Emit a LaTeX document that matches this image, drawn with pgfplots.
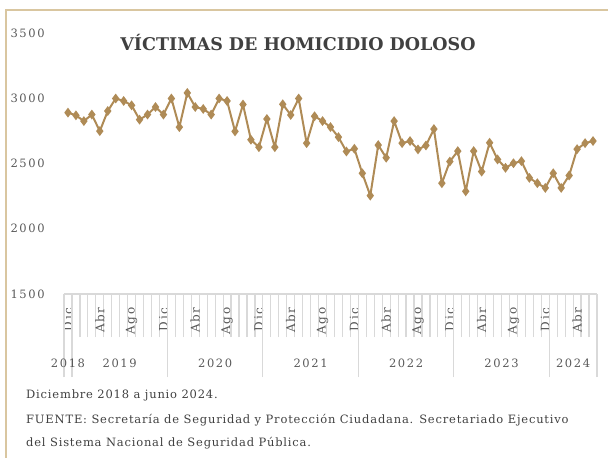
\documentclass[border=0pt]{standalone}
\usepackage{pgfplots}
\pgfplotsset{compat=1.18}
\usepackage{pgfplotstable}
\usepackage{fontspec}
\setmainfont{DejaVu Serif}
\newfontfamily\lsfont{DejaVu Serif}[LetterSpace=14]
\newfontfamily\fnfont{DejaVu Serif}[LetterSpace=7]
\definecolor{linec}{HTML}{AF8B56}
\definecolor{tickgray}{HTML}{D9D9D9}
\definecolor{txt}{HTML}{595959}
\definecolor{ttl}{HTML}{404040}
\definecolor{framec}{HTML}{D9C6A0}
\pgfplotstableread{
i v
0 2890
1 2869
2 2825
3 2875
4 2748
5 2902
6 2998
7 2979
8 2946
9 2836
10 2875
11 2933
12 2875
13 2998
14 2779
15 3041
16 2933
17 2918
18 2875
19 2998
20 2979
21 2746
22 2952
23 2682
24 2625
25 2841
26 2625
27 2954
28 2872
29 2998
30 2656
31 2862
32 2825
33 2779
34 2702
35 2592
36 2613
37 2425
38 2254
39 2641
40 2544
41 2825
42 2656
43 2672
44 2608
45 2638
46 2764
47 2349
48 2515
49 2595
50 2287
51 2595
52 2438
53 2659
54 2531
55 2467
56 2502
57 2518
58 2390
59 2349
60 2313
61 2425
62 2313
63 2408
64 2610
65 2656
66 2672
}\datatable
\begin{document}
\begin{tikzpicture}[x=1pt,y=1pt]
\useasboundingbox (0pt,0pt) rectangle (608pt,458pt);
\draw[framec, line width=1.5pt] (6pt,0pt) -- (6pt,448pt) -- (608pt,448pt);
\node[font=\bfseries\fontsize{17.5}{20}\selectfont, text=ttl] at (298pt,415.5pt) {VÍCTIMAS DE HOMICIDIO DOLOSO};
\node[anchor=west, inner sep=0, font=\fnfont\fontsize{11.5}{13}\selectfont, text=ttl] at (26pt,63pt) {Diciembre 2018 a junio 2024.};
\node[anchor=west, inner sep=0, font=\fnfont\fontsize{11.5}{13}\selectfont, text=ttl] at (26pt,38pt) {FUENTE: Secretaría de Seguridad y Protección Ciudadana. Secretariado Ejecutivo};
\node[anchor=west, inner sep=0, font=\fnfont\fontsize{11.5}{13}\selectfont, text=ttl] at (26pt,15pt) {del Sistema Nacional de Seguridad Pública.};
\begin{axis}[
  at={(64pt,164pt)}, anchor=south west,
  width=533pt, height=261pt, scale only axis,
  xmin=-0.5, xmax=66.5, ymin=1500, ymax=3500,
  clip=false,
  axis x line*=bottom, axis y line*=left,
  x axis line style={-, draw=tickgray, line width=1.2pt},
  y axis line style={draw=none},
  ytick={1500,2000,2500,3000,3500},
  yticklabels={1500,2000,2500,3000,3500},
  yticklabel style={anchor=west, xshift=-57pt, font=\lsfont\fontsize{11.5}{12}\selectfont, text=txt},
  y tick style={draw=none},
  xtick={0,4,...,64},
  xticklabels={Dic,Abr,Ago,Dic,Abr,Ago,Dic,Abr,Ago,Dic,Abr,Ago,Dic,Abr,Ago,Dic,Abr},
  xticklabel style={yshift=-10pt, rotate=90, anchor=east, font=\lsfont\fontsize{12}{12}\selectfont, text=txt},
  minor xtick={-0.5,0.5,...,66.5},
  major tick length=0pt,
  minor tick length=43pt,
  tick align=outside,
  x tick style={draw=tickgray, line width=1.2pt},
  extra x ticks={-0.5,0.5,12.5,24.5,36.5,48.5,60.5,66.5},
  extra x tick labels={},
  extra x tick style={major tick length=83pt, tick align=outside, x tick style={draw=tickgray, line width=1.2pt}},
]
\addplot[color=linec, line width=2pt, mark=diamond*, mark size=3.3pt, mark options={solid, fill=linec}] table[x=i, y=v] {\datatable};
\foreach \xx/\yy in {0/2018, 6.5/2019, 18.5/2020, 30.5/2021, 42.5/2022, 54.5/2023, 63.5/2024}{
  \edef\tmp{\noexpand\node[font=\noexpand\lsfont\noexpand\fontsize{11.5}{12}\noexpand\selectfont, text=txt] at (axis cs:\xx,1500) [yshift=-69pt] {\yy};}
  \tmp
}
\end{axis}
\end{tikzpicture}
\end{document}
